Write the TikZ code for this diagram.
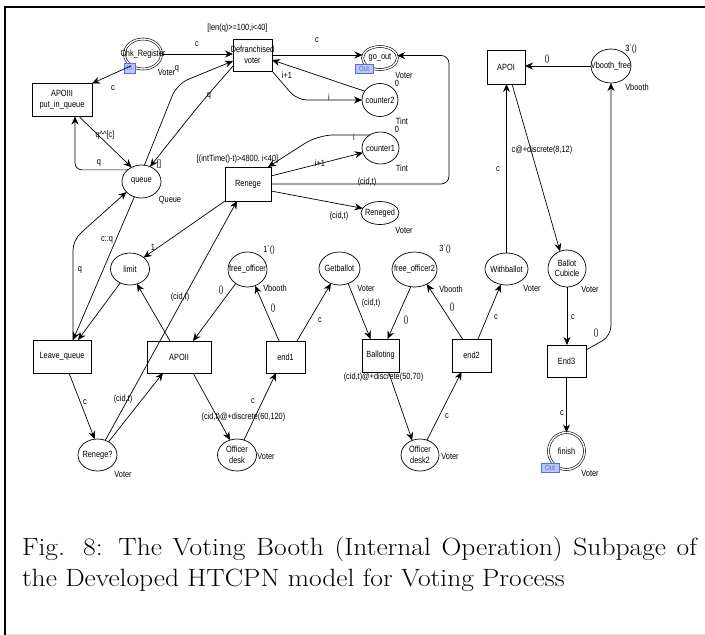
\documentclass[tikz,border=0pt]{standalone}
\usepackage{fontspec}
\newfontfamily\lblfont{Liberation Sans}[FakeStretch=0.82]
\usetikzlibrary{arrows.meta,shapes.geometric}

\definecolor{tagfill}{HTML}{B8C6F4}
\definecolor{tagline}{HTML}{5A6ED8}

\begin{document}
\begin{tikzpicture}[x=1pt,y=-1pt,
  every node/.style={font=\lblfont\fontsize{9}{10.5}\selectfont, inner sep=0pt, outer sep=0pt},
  trans/.style={draw, rectangle, line width=0.7pt},
  place/.style={draw, ellipse, line width=0.7pt},
  dplace/.style={draw, ellipse, line width=0.6pt, double, double distance=1.4pt},
  arc/.style={line width=0.7pt, -{Stealth[length=8pt,width=7pt,inset=2.6pt]}},
  tag/.style={draw=tagline, fill=tagfill, text=tagline, line width=0.6pt,
    font=\lblfont\fontsize{7.5}{8}\selectfont},
  caption/.style={anchor=base west, font=\rmfamily\fontsize{25}{30}\selectfont}
]
\useasboundingbox (0,0) rectangle (705,635);
\fill[white] (0,0) rectangle (705,635);

% page frame
\draw[line width=2.5pt] (4,7) -- (705,7);
\draw[line width=2pt] (5,6) -- (5,635);
\draw[black!12, line width=1pt] (6,634) -- (705,634);

% places
\node[dplace, minimum width=37pt, minimum height=30pt, label=center:Chk\_Register] (chk) at (143,54) {};
\node[place, minimum width=39pt, minimum height=33pt, label=center:queue] (queue) at (141.5,181.5) {};
\node[dplace, minimum width=35pt, minimum height=23pt, label=center:go\_out] (goout) at (380,58) {};
\node[place, minimum width=36pt, minimum height=33pt, label=center:counter2] (cnt2) at (380,100) {};
\node[place, minimum width=37pt, minimum height=32pt, label=center:counter1] (cnt1) at (380.5,148) {};
\node[place, minimum width=38pt, minimum height=23pt, label=center:Reneged] (reneged) at (380,213) {};
\node[place, minimum width=39pt, minimum height=32pt, label=center:limit] (limit) at (130,269) {};
\node[place, minimum width=39pt, minimum height=35pt, label=center:free\_officer] (freeoff) at (247.5,269.5) {};
\node[place, minimum width=41pt, minimum height=33pt, label=center:Getballot] (getb) at (339.5,268.5) {};
\node[place, minimum width=45pt, minimum height=35pt, label=center:free\_officer2] (freeoff2) at (414.5,269.5) {};
\node[place, minimum width=43pt, minimum height=32pt, label=center:Withballot] (withb) at (506.5,269) {};
\node[place, minimum width=38pt, minimum height=37pt, label={[align=center]center:Ballot\\Cubicle}] (cubicle) at (567,268.5) {};
\node[place, minimum width=39pt, minimum height=32pt, label=center:Renege?] (renegeq) at (97.5,455) {};
\node[place, minimum width=39pt, minimum height=32pt, label={[align=center]center:Officer\\desk}] (offdesk) at (237,455) {};
\node[place, minimum width=38pt, minimum height=32pt, label={[align=center]center:Officer\\desk2}] (offdesk2) at (420,455) {};
\node[dplace, minimum width=36pt, minimum height=37pt, label=center:finish] (finish) at (566.5,451) {};
\node[place, minimum width=40pt, minimum height=34pt, label=center:Vbooth\_free] (vfree) at (611,66) {};

% transitions
\node[trans, minimum width=60pt, minimum height=33pt, label={[align=center]center:APOIII\\put\_in\_queue}] (apo3) at (62,100) {};
\node[trans, minimum width=39pt, minimum height=32pt, label={[align=center]center:Defranchised\\voter}] (defr) at (252.5,55) {};
\node[trans, minimum width=46pt, minimum height=34pt, label=center:Renege] (renege) at (248,184) {};
\node[trans, minimum width=38pt, minimum height=34pt, label=center:APOI] (apo1) at (506,67) {};
\node[trans, minimum width=58pt, minimum height=33pt, label=center:Leave\_queue] (leaveq) at (62,356.5) {};
\node[trans, minimum width=64pt, minimum height=32pt, label=center:APOII] (apo2) at (179,357) {};
\node[trans, minimum width=39pt, minimum height=32pt, label=center:end1] (end1) at (285.5,357) {};
\node[trans, minimum width=37pt, minimum height=33pt, label=center:Balloting] (ballot) at (380.5,355.5) {};
\node[trans, minimum width=39pt, minimum height=33pt, label=center:end2] (end2) at (471.5,355.5) {};
\node[trans, minimum width=39pt, minimum height=32pt, label=center:End3] (end3) at (566.5,361) {};

% port tags
\node[tag, minimum width=11pt, minimum height=10pt] (chkin) at (129.5,68) {In};
\node[tag, minimum width=18pt, minimum height=9pt] (gooutport) at (364,68.5) {Out};
\node[tag, minimum width=18pt, minimum height=9pt] (finishport) at (550,467.5) {Out};

% arcs
\draw[arc] (chk.east) -- (chk.east -| defr.west);
\draw[arc] (chk.225) -- (apo3.north east);
\draw[arc] ([xshift=17pt]apo3.south) -- (queue.125);
\draw[arc, rounded corners=7pt] (queue.140) -| ([xshift=13pt]apo3.south);
\draw[arc, rounded corners=12pt] (queue.80) -- (177,84) -- ([yshift=-6pt]defr.west);
\draw[arc, rounded corners=16pt] ([yshift=-11pt]defr.west) -- (200,104) -- (queue.60);
\draw[arc] (defr.east) -- (defr.east -| goout.west);
\draw[arc] (cnt2.150) -- ([yshift=-5pt]defr.east);
\draw[arc, rounded corners=10pt] (defr.south east) -- (297,100) -- (cnt2.west);
\draw[arc, rounded corners=8pt] (renege.east) -- (449,184) -- (449,55.4) -- (goout.8);
\draw[arc] ([yshift=8pt]renege.east) -- (cnt1.195);
\draw[arc, rounded corners=15pt] (cnt1.130) -- (318,135) -- ([xshift=-3pt]renege.north east);
\draw[arc] ([yshift=-7pt]renege.east) -- (reneged.165);
\draw[arc] (renege.south west) -- (limit.40);
\draw[arc] (renegeq.62) -- ([xshift=-11pt]renege.south);
\draw[arc] (renegeq.50) -- ([xshift=-16pt]apo2.south);
\draw[arc] ([xshift=7pt]leaveq.south) -- (renegeq.100);
\draw[arc] (queue.245) -- ([xshift=11pt]leaveq.north);
\draw[arc, rounded corners=10pt] ([xshift=11pt]leaveq.north) -- (73,240) -- (queue.215);
\draw[arc] (limit.235) -- ([xshift=16pt]leaveq.north);
\draw[arc] ([xshift=-9pt]apo2.north) -- (limit.295);
\draw[arc] (freeoff.230) -- ([xshift=14pt]apo2.north);
\draw[arc] ([xshift=14pt]apo2.south) -- (offdesk.115);
\draw[arc] (offdesk.65) -- ([xshift=-9.5pt]end1.south);
\draw[arc] ([xshift=-6.5pt]end1.north) -- (freeoff.295);
\draw[arc] ([xshift=11.5pt]end1.north) -- (getb.240);
\draw[arc] (getb.300) -- ([xshift=-10pt]ballot.north);
\draw[arc] (freeoff2.258) -- ([xshift=7pt]ballot.north);
\draw[arc] ([xshift=-9pt]end2.north) -- (freeoff2.310);
\draw[arc] ([xshift=6.5pt]end2.north) -- (withb.250);
\draw[arc] ([xshift=8pt]ballot.south) -- (offdesk2.118);
\draw[arc] (offdesk2.65) -- ([xshift=-10pt]end2.south);
\draw[arc] (withb.north) -- (withb.north |- apo1.south);
\draw[arc] ([xshift=6pt]apo1.south) -- (cubicle.112);
\draw[arc] (vfree.west) -- (vfree.west -| apo1.east);
\draw[arc, rounded corners=10pt] ([yshift=11pt]end3.east) -- (611,336) -- (vfree.south);
\draw[arc] (cubicle.south) -- (cubicle.south |- end3.north);
\draw[arc] (end3.south) -- (finish.north);

% guards
\node (g1) at (237.5,28) {[len(q)>=100,i<40]};
\node (g2) at (237.5,159) {[(intTime()-t)>4800, i<40]};

% colour sets and initial markings
\node (s1) at (166.5,72) {Voter};
\node (s2) at (404,75) {Voter};
\node (m1) at (397,83) {0};
\node (s3) at (402,121) {Tint};
\node (m2) at (397,129) {0};
\node (s4) at (402,168) {Tint};
\node (s5) at (170,200) {Queue};
\node (s6) at (404,230) {Voter};
\node (m3) at (269,250) {1`()};
\node (s7) at (275,288) {Vbooth};
\node (s8) at (366,288) {Voter};
\node (m4) at (445,249) {3`()};
\node (s9) at (451,289) {Vbooth};
\node (s10) at (532,288) {Voter};
\node (s11) at (590,289) {Voter};
\node (s12) at (123,474) {Voter};
\node (s13) at (266,456) {Voter};
\node (s14) at (450,456) {Voter};
\node (s15) at (590,473) {Voter};
\node (m5) at (631,49) {3`()};
\node (s16) at (637,87) {Vbooth};

% arc inscriptions
\node (a1) at (197,44) {c};
\node (a2) at (113,88) {c};
\node (a3) at (105,135) {q\textasciicircum\textasciicircum[c]};
\node (a4) at (99,163) {q};
\node (a5) at (177,69) {q};
\node (a6) at (209,96) {q};
\node (a7) at (159,164) {[]};
\node (a8) at (317,40) {c};
\node (a9) at (287,75) {i+1};
\node (a10) at (329,97) {i};
\node (a11) at (354,137) {i};
\node (a12) at (320,163) {i+1};
\node (a13) at (367,182) {(cid,t)};
\node (a14) at (339,216) {(cid,t)};
\node (a15) at (153,247) {1};
\node (a16) at (107,240) {c::q};
\node (a17) at (80,270) {q};
\node (a18) at (180,297) {(cid,t)};
\node (a19) at (221,290) {()};
\node (a20) at (273,308) {()};
\node (a21) at (320,320) {c};
\node (a22) at (371,303) {(cid,t)};
\node (a23) at (406,320) {()};
\node (a24) at (452,307) {()};
\node (a25) at (496,317) {c};
\node (a26) at (573,317) {c};
\node (a27) at (596,333) {()};
\node (a28) at (383.5,377) {(cid,t)@+discrete(50,70)};
\node (a29) at (85,402) {c};
\node (a30) at (123,399) {(cid,t)};
\node (a31) at (243.5,417) {(cid,t)@+discrete(60,120)};
\node (a32) at (253,401) {c};
\node (a33) at (447,416) {c};
\node (a34) at (562,413) {c};
\node (a35) at (498,169) {c};
\node (a36) at (542,150) {c@+discrete(8,12)};
\node (a37) at (547,59) {()};

% caption
\node[caption] (cap1) at (22,555) {\scalebox{1.1}[1]{\makebox[613.6pt][s]{Fig. 8: The Voting Booth (Internal Operation) Subpage of}}};
\node[caption] (cap2) at (22,586) {\scalebox{1.1}[1]{the Developed HTCPN model for Voting Process}};
\end{tikzpicture}
\end{document}
